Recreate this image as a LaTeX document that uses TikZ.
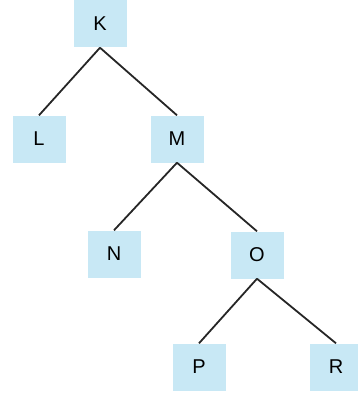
\documentclass[tikz,border=0pt]{standalone}
\usepackage{fontspec}
\setmainfont{Liberation Sans}
\usetikzlibrary{positioning}
\definecolor{boxblue}{RGB}{200,232,245}

\begin{document}
\begin{tikzpicture}[x=1pt,y=-1pt,
    treenode/.style={fill=boxblue,minimum width=53pt,minimum height=47pt,inner sep=0pt,font=\fontsize{20}{20}\selectfont},
    branch/.style={line width=1.8pt,black!85}]
    \useasboundingbox (0,0) rectangle (358,393);
    \node [treenode] (k) at (100,24) {K};
    \node [treenode] (l) at (39,139) {L};
    \node [treenode] (m) at (177,139) {M};
    \node [treenode] (n) at (114,254) {N};
    \node [treenode] (o) at (257,255) {O};
    \node [treenode] (p) at (199,367) {P};
    \node [treenode] (r) at (336,367) {R};

    \draw [branch] (k.south) -- (l.north);
    \draw [branch] (k.south) -- (m.north);
    \draw [branch] (m.south) -- (n.north);
    \draw [branch] (m.south) -- (o.north);
    \draw [branch] (o.south) -- (p.north);
    \draw [branch] (o.south) -- (r.north);
\end{tikzpicture}
\end{document}
